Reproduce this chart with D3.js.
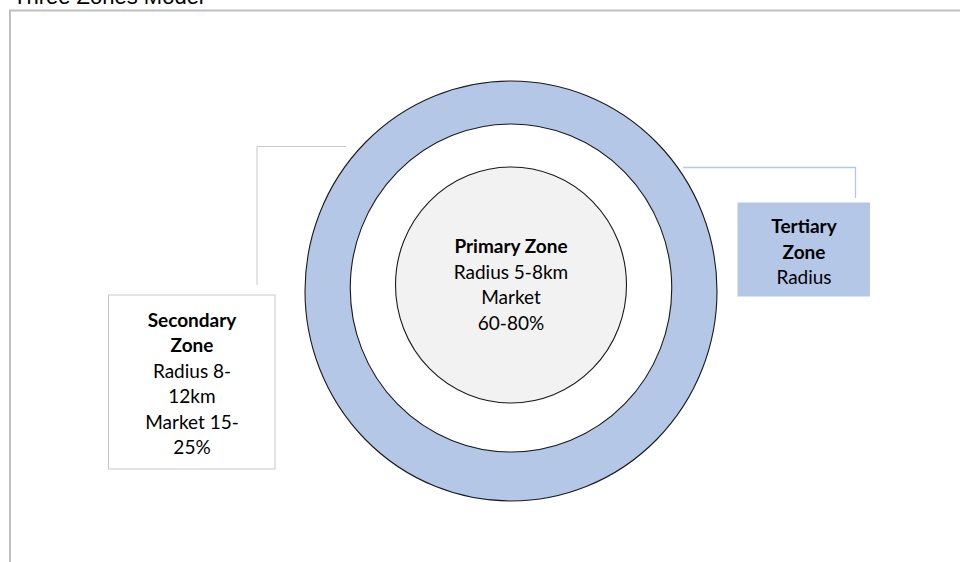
<!DOCTYPE html>
<html>
<head>
<meta charset="utf-8">
<script src="https://cdn.jsdelivr.net/npm/d3@7"></script>
<style>
  body { margin: 0; background: #fff; }
  svg { display: block; }
</style>
</head>
<body>
<div id="chart"></div>
<script>
// zones, inner to outer
const zoneIds = ["primary", "secondary", "tertiary"];
const zoneRing = [1, 2, 3];
const zoneFills = ["#f2f2f2", "#ffffff", "#b4c7e7"];
const zoneTitles = [["Primary Zone"], ["Secondary", "Zone"], ["Tertiary", "Zone"]];
const zoneLines = [
  ["Radius 5-8km", "Market", "60-80%"],
  ["Radius 8-", "12km", "Market 15-", "25%"],
  ["Radius"]
];
const chartTitle = "Three Zones Model";

const width = 960, height = 562;
const font = "Lato, 'Open Sans', sans-serif";
const lineH = 25.5;

const svg = d3.select("#chart").append("svg")
  .attr("width", width)
  .attr("height", height);

// title (cut off at top, like the source)
svg.append("text")
  .attr("x", 13)
  .attr("y", 4)
  .attr("font-family", "'Liberation Sans', Arial, sans-serif")
  .attr("font-size", 22)
  .attr("fill", "#000")
  .text(chartTitle);

// outer frame, runs past the right and bottom edges
svg.append("rect")
  .attr("x", 10)
  .attr("y", 10.5)
  .attr("width", 1000)
  .attr("height", 600)
  .attr("fill", "none")
  .attr("stroke", "#bfbfbf")
  .attr("stroke-width", 2);

// ring scales
const rx = d3.scaleLinear().domain([1, 3]).range([115.5, 206]);
const ry = d3.scaleLinear().domain([1, 3]).range([118, 210]);
const cy = d3.scaleLinear().domain([1, 3]).range([285, 291]);
const cx = 511;

const rings = zoneIds.map((id, i) => ({ id, ring: zoneRing[i], fill: zoneFills[i] }));

svg.append("g").selectAll("ellipse")
  .data(rings.slice().reverse())
  .join("ellipse")
  .attr("cx", cx)
  .attr("cy", d => cy(d.ring))
  .attr("rx", d => rx(d.ring))
  .attr("ry", d => ry(d.ring))
  .attr("fill", d => d.fill)
  .attr("stroke", "#1a1a1a")
  .attr("stroke-width", 1.1);

// connectors
const conn = svg.append("g").attr("fill", "none");
conn.append("path")
  .attr("d", "M257,285 V146.5 H346")
  .attr("stroke", "#c8c8c8")
  .attr("stroke-width", 1);
conn.append("path")
  .attr("d", "M683,167.5 H855.5 V198")
  .attr("stroke", "#b4c7e7")
  .attr("stroke-width", 1.3);

// callout boxes
svg.append("rect")
  .attr("x", 108.5).attr("y", 295)
  .attr("width", 166.5).attr("height", 174)
  .attr("fill", "#fff")
  .attr("stroke", "#c8c8c8")
  .attr("stroke-width", 1);

svg.append("rect")
  .attr("x", 737.5).attr("y", 202.5)
  .attr("width", 132.5).attr("height", 94)
  .attr("fill", zoneFills[2]);

// label blocks
const labels = [
  { i: 0, x: cx, y: 253.3 },
  { i: 1, x: 192, y: 326.7 },
  { i: 2, x: 804, y: 233.3 }
];

labels.forEach(l => {
  const rows = zoneTitles[l.i].map(t => ({ t, bold: true }))
    .concat(zoneLines[l.i].map(t => ({ t, bold: false })));
  svg.append("g").selectAll("text")
    .data(rows)
    .join("text")
    .attr("x", l.x)
    .attr("y", (d, k) => l.y + k * lineH)
    .attr("text-anchor", "middle")
    .attr("font-family", font)
    .attr("font-size", 19)
    .attr("font-weight", d => d.bold ? "bold" : "normal")
    .attr("fill", "#000")
    .text(d => d.t);
});
</script>
</body>
</html>
